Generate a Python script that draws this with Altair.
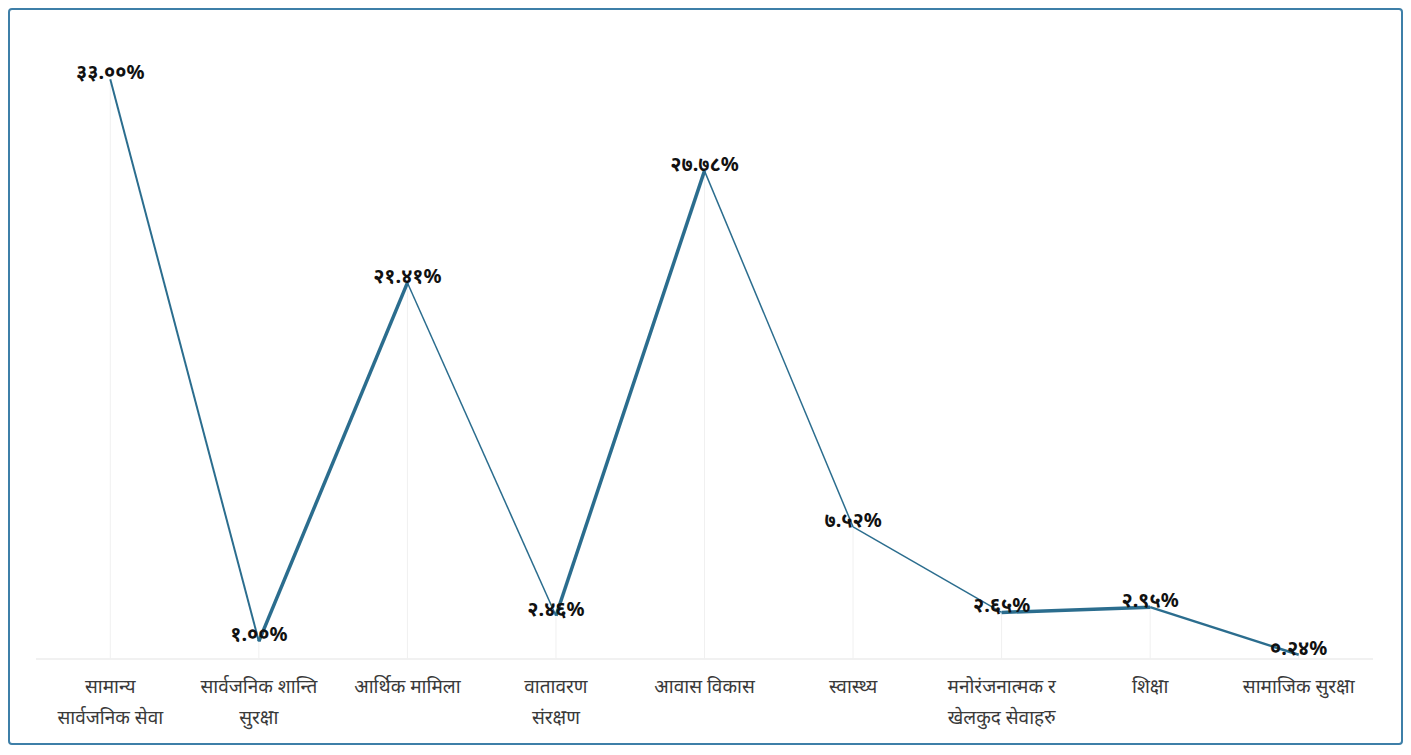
import altair as alt
import pandas as pd

categories = [
    "सामान्य\nसार्वजनिक सेवा",
    "सार्वजनिक शान्ति\nसुरक्षा",
    "आर्थिक मामिला",
    "वातावरण\nसंरक्षण",
    "आवास विकास",
    "स्वास्थ्य",
    "मनोरंजनात्मक र\nखेलकुद सेवाहरु",
    "शिक्षा",
    "सामाजिक सुरक्षा",
]
values = [33.00, 1.00, 21.41, 2.46, 27.78, 7.52, 2.65, 2.95, 0.24]
labels = ["३३.००%", "१.००%", "२१.४१%", "२.४६%", "२७.७८%", "७.५२%", "२.६५%", "२.९५%", "०.२४%"]
segment_widths = [2, 3.5, 1.5, 3.5, 1.5, 1.5, 3.5, 2.5]

df = pd.DataFrame({"cat": categories, "value": values, "label": labels, "order": range(len(values))})

rows = []
for i in range(len(values) - 1):
    for j in (i, i + 1):
        rows.append({"seg": i, "cat": categories[j], "value": values[j], "order": j, "w": segment_widths[i]})
seg_df = pd.DataFrame(rows)

FONT = "Noto Sans"
W, H = 1337, 615

xenc = alt.X("cat:N", sort=categories, scale=alt.Scale(paddingInner=0, paddingOuter=0),
             axis=alt.Axis(title=None, labelAngle=0, ticks=False, domain=False, grid=False,
                           labelExpr="split(datum.label, '\\n')", labelFontSize=19,
                           labelColor="#3a3a3a", labelFont=FONT, labelPadding=18,
                           labelLineHeight=31, labelLimit=0))
yscale = alt.Scale(domain=[0, 35], nice=False)

frame = alt.Chart(pd.DataFrame({"a": [0]})).mark_rect(
    fill=None, stroke="#3E7FA8", strokeWidth=2, cornerRadius=3
).encode(x=alt.value(-27), x2=alt.value(1366), y=alt.value(-35), y2=alt.value(700))

baseline = alt.Chart(pd.DataFrame({"v": [0]})).mark_rule(color="#e3e3e3", strokeWidth=1).encode(
    y=alt.Y("v:Q", scale=yscale, axis=None), x=alt.value(0), x2=alt.value(W))

drops = alt.Chart(df).mark_rule(color="#f0f0f0", strokeWidth=1).encode(
    x=xenc, y=alt.Y("value:Q", scale=yscale, axis=None), y2=alt.datum(0))

lines = alt.Chart(seg_df).mark_line(color="#2B6D8E").encode(
    x=xenc,
    y=alt.Y("value:Q", scale=yscale, axis=None),
    detail="seg:N",
    order="order:Q",
    size=alt.Size("w:Q", scale=None, legend=None),
)

text = alt.Chart(df).mark_text(fontSize=20, fontWeight="bold", color="#111111", font=FONT,
                               baseline="middle", dy=-6).encode(
    x=xenc, y=alt.Y("value:Q", scale=yscale, axis=None), text="label:N")

chart = alt.layer(frame, baseline, drops, lines, text).properties(
    width=W, height=H,
    autosize=alt.AutoSizeParams(type="none"),
    padding={"left": 28, "top": 36, "right": 30, "bottom": 88},
).configure(background="white").configure_view(stroke=None, strokeWidth=0)

chart.save("out.html", embed_options={"renderer": "svg", "actions": False})
